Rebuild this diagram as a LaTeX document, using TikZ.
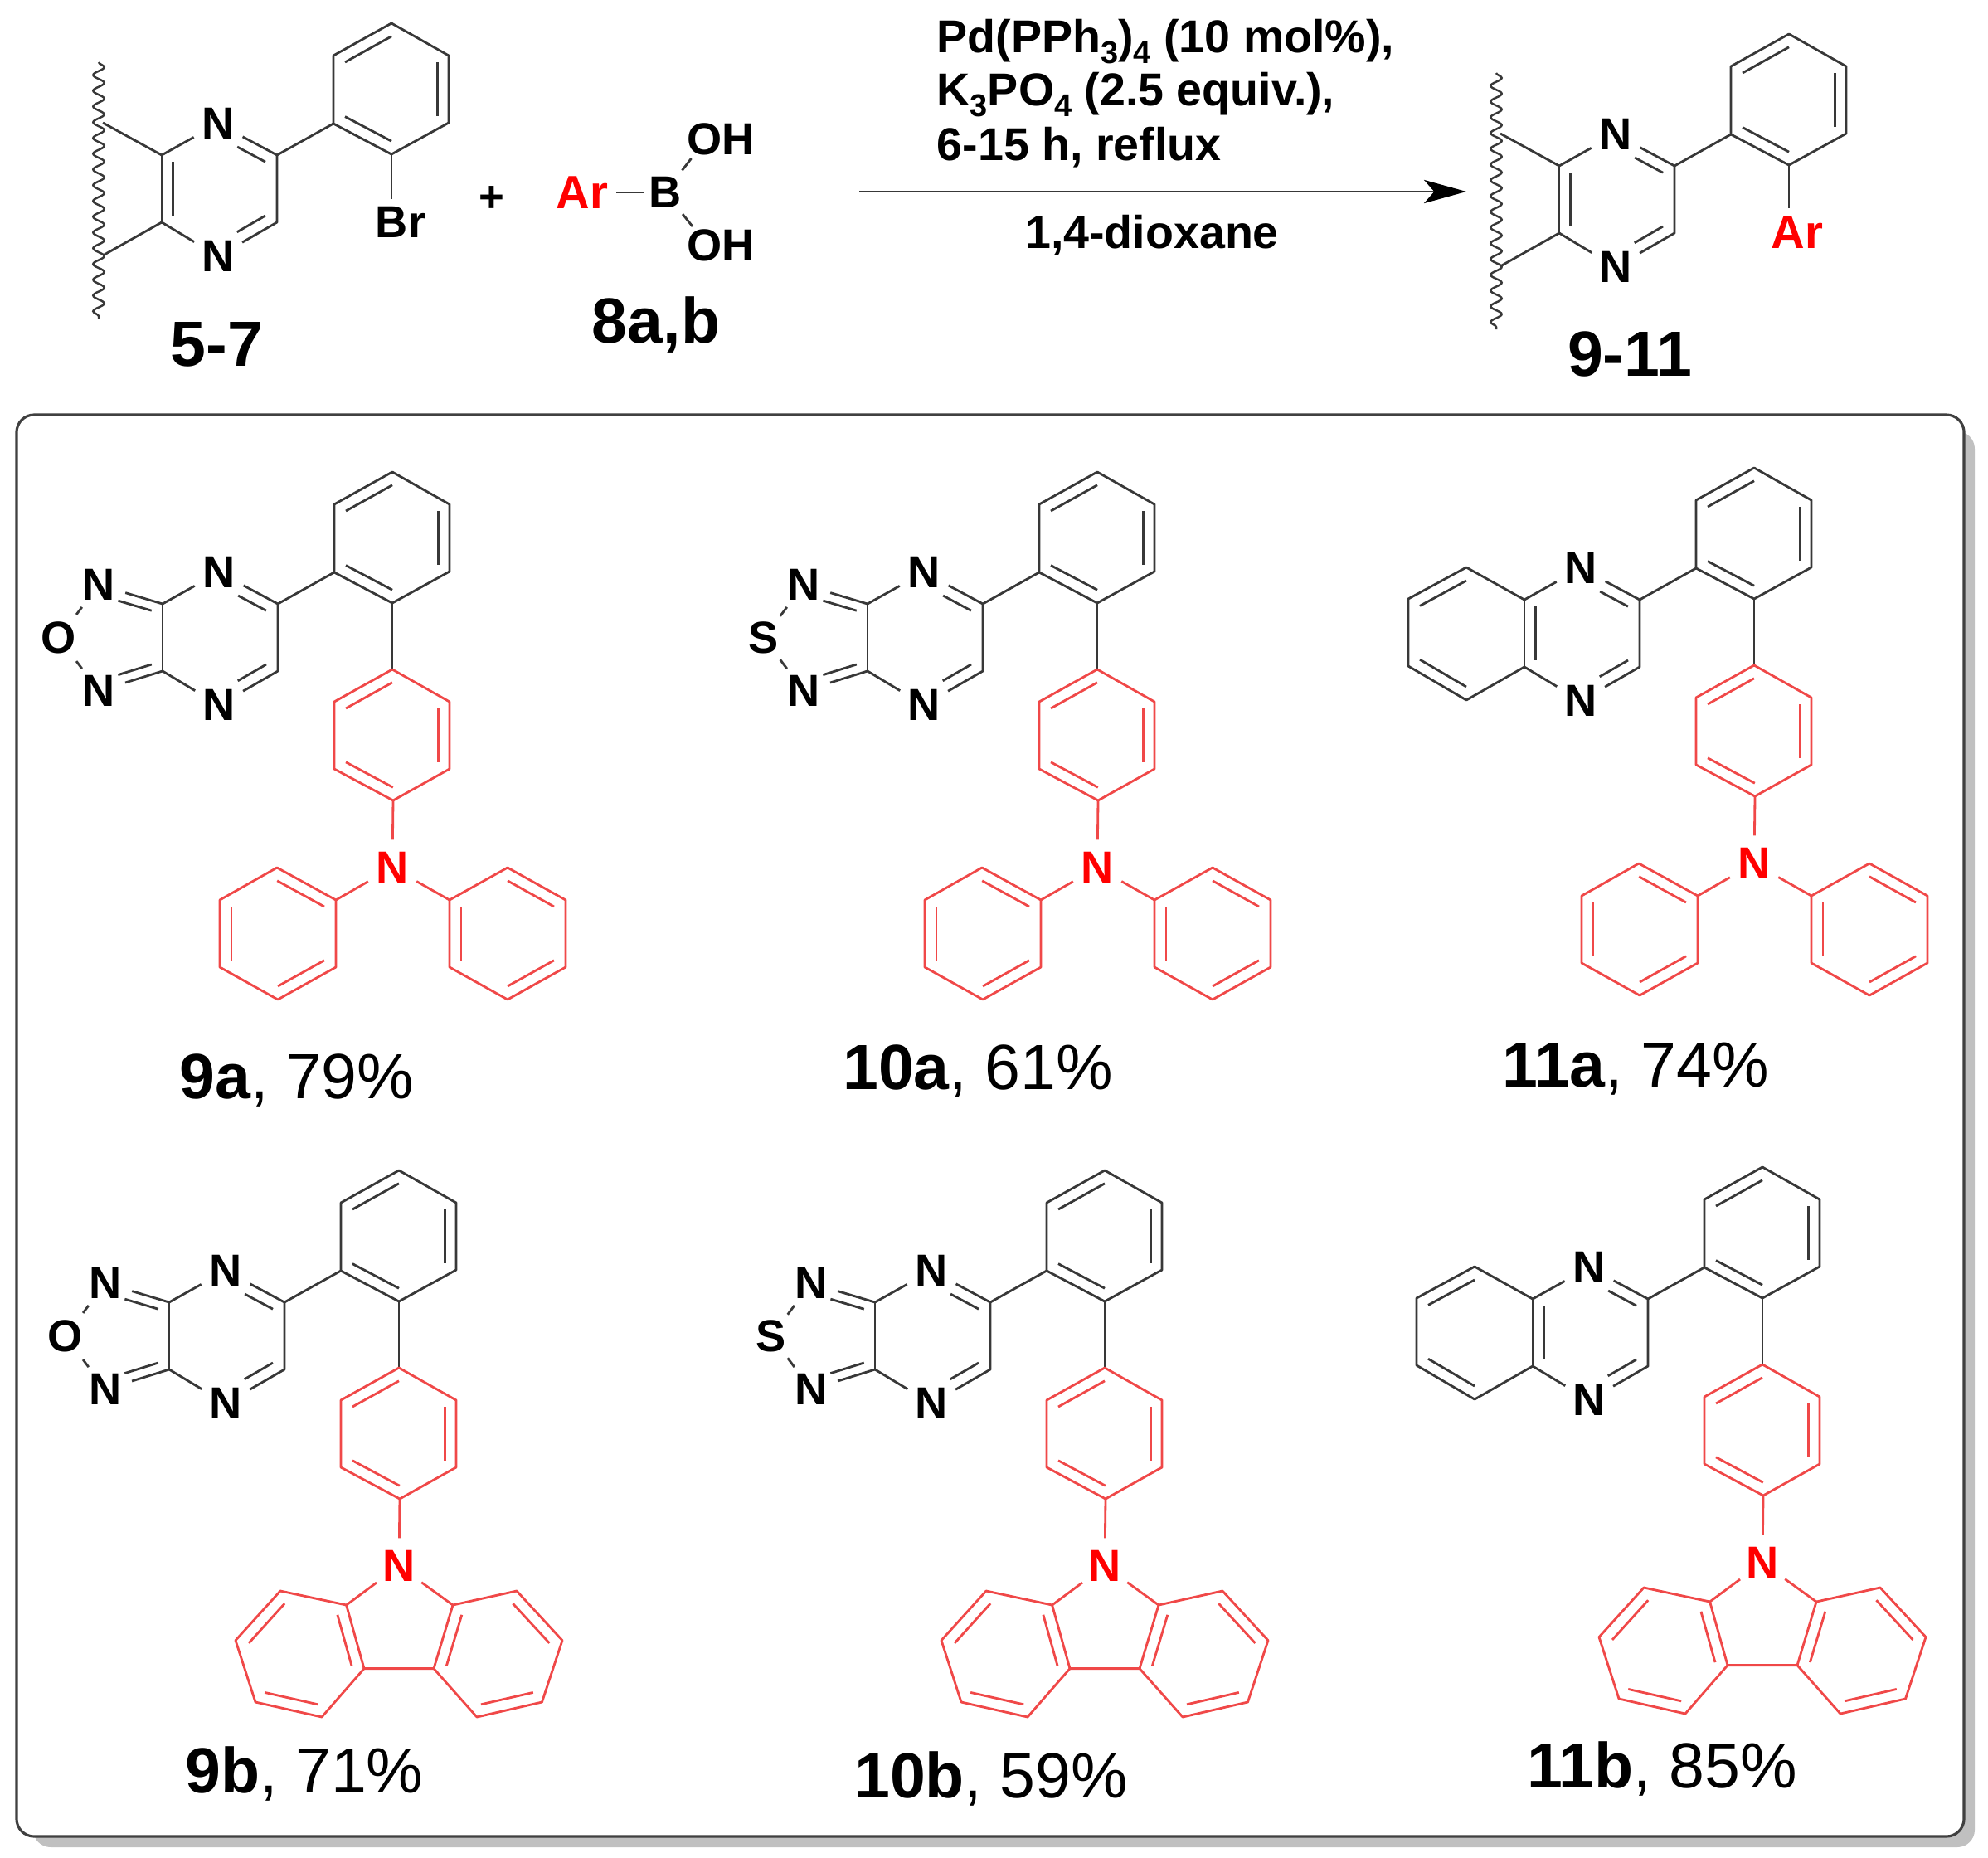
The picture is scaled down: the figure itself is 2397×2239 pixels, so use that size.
\documentclass[tikz,border=0pt]{standalone}
\usepackage{fontspec}
\setmainfont{Liberation Sans}
\usetikzlibrary{calc,arrows.meta,decorations.pathmorphing,shapes.geometric}
\definecolor{bondk}{HTML}{383838}
\definecolor{bondr}{HTML}{F04848}
\definecolor{boxline}{HTML}{404040}
\definecolor{boxshadow}{HTML}{C0C0C0}
\newcommand{\atomfont}{\fontsize{15.4}{17}\selectfont\bfseries}
\newcommand{\arfont}{\fontsize{16}{18}\selectfont\bfseries}
\newcommand{\codefont}{\fontsize{21.9}{24}\selectfont\bfseries}
\newcommand{\yieldfont}{\fontsize{21.9}{24}\selectfont}
\newcommand{\reagfont}{\fontsize{15.8}{18}\selectfont\bfseries}
\newcommand{\lowsub}[1]{\raisebox{-3.7pt}{\fontsize{10.8}{12}\selectfont\bfseries #1}}
\newcommand{\DB}[4][blk]{\draw[#1] ($(#2)!.2!(#4)$) -- ($(#3)!.2!(#4)$);}
% pyrazine with the o-phenylene: common to all molecules
\newcommand{\corecoords}{%
  \coordinate (a) at (196,728); \coordinate (b) at (196,809);
  \coordinate (c) at (335,728); \coordinate (d) at (335,809);
  \coordinate (pc) at (265,769);
  \coordinate (p1) at (403,690); \coordinate (p2) at (403,608);
  \coordinate (p3) at (473,569); \coordinate (p4) at (542,608);
  \coordinate (p5) at (542,689); \coordinate (p6) at (473,727);
  \coordinate (pp) at (473,648);
  \node[atom] (N1) at (264,690) {N};
  \node[atom] (N2) at (264,850) {N};
}
\newcommand{\corebonds}{%
  \draw[blk] (a) -- (N1);
  \draw[blk] (N1) -- (c) -- (d) -- (N2);
  \draw[blk] (N2) -- (b);
  \DB[blk,shorten <=7.4pt]{N1}{c}{pc}
  \DB[blk,shorten <=7.4pt]{N2}{d}{pc}
  \draw[blk] (c) -- (p1);
  \draw[blk] (p1) -- (p2) -- (p3) -- (p4) -- (p5) -- (p6) -- cycle;
  \DB{p1}{p6}{pp}
  \DB{p2}{p3}{pp}
  \DB{p4}{p5}{pp}
}
% fused azole with heteroatom #1
\newcommand{\azole}[1]{%
  \coordinate (fc) at (130,769);
  \node[atom] (N3) at (119,705) {N};
  \node[atom] (N4) at (119,833) {N};
  \node[atom] (X) at (71,769) {#1};
  \draw[blk] (a) -- (b);
  \draw[blk] (N3) -- (a);
  \draw[blk] (N4) -- (b);
  \DB[blk,shorten <=6.3pt]{N3}{a}{fc}
  \DB[blk,shorten <=6.3pt]{N4}{b}{fc}
  \draw[blk] (X) -- (N3);
  \draw[blk] (X) -- (N4);
}
\newcommand{\quinox}{%
  \coordinate (q1) at (126,689); \coordinate (q2) at (56,727);
  \coordinate (q3) at (56,808); \coordinate (q4) at (126,849);
  \coordinate (qc) at (126,769);
  \draw[blk] (a) -- (b);
  \DB{a}{b}{pc}
  \draw[blk] (a) -- (q1) -- (q2) -- (q3) -- (q4) -- (b);
  \DB{q1}{q2}{qc}
  \DB{q3}{q4}{qc}
}
\newcommand{\redring}{%
  \coordinate (r1) at (473,807); \coordinate (r2) at (403,846);
  \coordinate (r3) at (403,927); \coordinate (r4) at (474,965);
  \coordinate (r5) at (542,927); \coordinate (r6) at (542,846);
  \coordinate (rc) at (473,886);
  \draw[blk] (p6) -- (r1);
  \draw[rd] (r1) -- (r2) -- (r3) -- (r4) -- (r5) -- (r6) -- cycle;
  \DB[rd]{r1}{r2}{rc}
  \DB[rd]{r3}{r4}{rc}
  \DB[rd]{r5}{r6}{rc}
  \node[atom,text=red] (Nr) at (473,1046) {N};
  \draw[rd] (r4) -- (Nr);
}
\newcommand{\diphenyl}{%
  \coordinate (l1) at (405,1085); \coordinate (l2) at (334,1046);
  \coordinate (l3) at (265,1085); \coordinate (l4) at (265,1166);
  \coordinate (l5) at (335,1205); \coordinate (l6) at (405,1166);
  \coordinate (lc) at (335,1125);
  \coordinate (m1) at (542,1085); \coordinate (m2) at (612,1046);
  \coordinate (m3) at (682,1085); \coordinate (m4) at (682,1166);
  \coordinate (m5) at (612,1205); \coordinate (m6) at (542,1166);
  \coordinate (mc) at (612,1125);
  \draw[rd] (Nr) -- (l1);
  \draw[rd] (Nr) -- (m1);
  \draw[rd] (l1) -- (l2) -- (l3) -- (l4) -- (l5) -- (l6) -- cycle;
  \draw[rd] (m1) -- (m2) -- (m3) -- (m4) -- (m5) -- (m6) -- cycle;
  \DB[rd]{l1}{l2}{lc}
  \DB[rd]{l3}{l4}{lc}
  \DB[rd]{l5}{l6}{lc}
  \DB[rd]{m2}{m3}{mc}
  \DB[rd]{m4}{m5}{mc}
  \DB[rd]{m6}{m1}{mc}
}
\newcommand{\carbazole}{%
  \coordinate (c1) at (409.6,1093); \coordinate (c2) at (431,1169.6);
  \coordinate (c3) at (515,1169.6); \coordinate (c4) at (538,1093);
  \coordinate (u1) at (330,1076); \coordinate (u2) at (276,1135.6);
  \coordinate (u3) at (300,1210); \coordinate (u4) at (380,1228);
  \coordinate (v1) at (615,1076); \coordinate (v2) at (670,1135.6);
  \coordinate (v3) at (645.5,1210); \coordinate (v4) at (567,1228);
  \coordinate (uc) at (356,1152); \coordinate (vc) at (592,1152);
  \draw[rd] (Nr) -- (c1);
  \draw[rd] (Nr) -- (c4);
  \draw[rd] (c1) -- (c2) -- (c3) -- (c4);
  \draw[rd] (c1) -- (u1) -- (u2) -- (u3) -- (u4) -- (c2);
  \draw[rd] (c4) -- (v1) -- (v2) -- (v3) -- (v4) -- (c3);
  \DB[rd]{c1}{c2}{uc}
  \DB[rd]{u1}{u2}{uc}
  \DB[rd]{u3}{u4}{uc}
  \DB[rd]{c4}{c3}{vc}
  \DB[rd]{v1}{v2}{vc}
  \DB[rd]{v3}{v4}{vc}
}
\begin{document}
\begin{tikzpicture}[x=0.01cm,y=-0.01cm,
  blk/.style={draw=bondk,line width=0.8pt,line join=round},
  rd/.style={draw=bondr,line width=0.8pt,line join=round},
  atom/.style={circle,inner sep=1.2pt,font=\atomfont,text=black},
  rectatom/.style={rectangle,inner sep=2.6pt,font=\atomfont,text=black},
  wavy/.style={draw=bondk,line width=0.7pt,decorate,decoration={snake,segment length=5.4pt,amplitude=1.9pt}},
  code/.style={anchor=base,font=\codefont,text=black,inner sep=0pt},
  yield/.style={anchor=base,font=\yieldfont,text=black,inner sep=0pt},
  reag/.style={anchor=base west,font=\reagfont,text=black,inner sep=0pt},
]
\useasboundingbox (0,0) rectangle (2397,2239);
\fill[white] (0,0) rectangle (2397,2239);

% panel
\fill[boxshadow,rounded corners=6pt] (40,520) rectangle (2381,2227);
\draw[boxline,line width=0.9pt,fill=white,rounded corners=6pt] (20,500) rectangle (2368,2214);

% reactant 5-7
\begin{scope}[shift={(-1,-541)},name prefix=s-]
  \corecoords
  \corebonds
  \draw[blk] (a) -- (b);
  \DB{a}{b}{pc}
  \coordinate (wt) at (120,616); \coordinate (wb) at (120,925);
  \coordinate (wa) at (125,689); \coordinate (wd) at (125,849);
  \draw[wavy] (wt) -- (wb);
  \draw[blk] (a) -- (wa);
  \draw[blk] (b) -- (wd);
  \node[rectatom] (Br) at (484,809) {Br};
  \draw[blk] (p6) -- (p6 |- Br.north);
\end{scope}
\node[font=\fontsize{15}{16}\selectfont\bfseries,inner sep=0pt] (plus) at (593,240) {+};

% boronic acid
\node[rectatom,text=red,font=\arfont] (Ar) at (702,232) {Ar};
\node[atom] (B) at (802,232) {B};
\node[rectatom] (OHt) at (869,168) {OH};
\node[rectatom] (OHb) at (869,296) {OH};
\coordinate (bt) at (833.5,191);
\coordinate (bb) at (835,273);
\draw[blk,shorten >=-2.5pt] (Ar) -- (B);
\draw[blk] (B) -- (bt);
\draw[blk] (B) -- (bb);
\node[code] (lab57) at (261.5,441) {5-7};
\node[code] (lab8) at (791,413) {8a,b};

% reaction arrow
\coordinate (arS) at (1036,231);
\coordinate (arE) at (1768,231);
\draw[draw=bondk,line width=0.8pt,-{Stealth[length=14.5pt,width=8pt,inset=3.5pt,color=black]}] (arS) -- (arE);
\node[reag] (re1) at (1129,63) {Pd(PPh\lowsub{3})\lowsub{4} (10 mol\%),};
\node[reag] (re2) at (1129,127) {K\lowsub{3}PO\lowsub{4} (2.5 equiv.),};
\node[reag] (re3) at (1129,193) {6-15 h, reflux};
\node[reag,anchor=base] (re4) at (1389,299) {1,4-dioxane};

% product 9-11
\begin{scope}[shift={(1684,-528)},name prefix=t-]
  \corecoords
  \corebonds
  \draw[blk] (a) -- (b);
  \DB{a}{b}{pc}
  \coordinate (wt) at (120,616); \coordinate (wb) at (120,925);
  \coordinate (wa) at (125,689); \coordinate (wd) at (125,849);
  \draw[wavy] (wt) -- (wb);
  \draw[blk] (a) -- (wa);
  \draw[blk] (b) -- (wd);
  \node[rectatom,text=red,font=\arfont] (ArP) at (483,808) {Ar};
  \draw[blk] (p6) -- (p6 |- ArP.north);
\end{scope}
\node[code] (lab911) at (1965,453) {9-11};

% 9a
\begin{scope}[name prefix=m9a-]
  \corecoords \corebonds \azole{O} \redring \diphenyl
\end{scope}
\node[yield] (lab9a) at (358,1324) {\textbf{9a}, 79\%};
% 10a
\begin{scope}[shift={(850,0)},name prefix=m10a-]
  \corecoords \corebonds \azole{S} \redring \diphenyl
\end{scope}
\node[yield] (lab10a) at (1179,1313) {\textbf{10a}, 61\%};
% 11a
\begin{scope}[shift={(1642,-5)},name prefix=m11a-]
  \corecoords \corebonds \quinox \redring \diphenyl
\end{scope}
\node[yield] (lab11a) at (1972,1310) {\textbf{11a}, 74\%};
% 9b
\begin{scope}[shift={(8,842)},name prefix=m9b-]
  \corecoords \corebonds \azole{O} \redring \carbazole
\end{scope}
\node[yield] (lab9b) at (367,2161) {\textbf{9b}, 71\%};
% 10b
\begin{scope}[shift={(859,842)},name prefix=m10b-]
  \corecoords \corebonds \azole{S} \redring \carbazole
\end{scope}
\node[yield] (lab10b) at (1195,2167) {\textbf{10b}, 59\%};
% 11b
\begin{scope}[shift={(1652,838)},name prefix=m11b-]
  \corecoords \corebonds \quinox \redring \carbazole
\end{scope}
\node[yield] (lab11b) at (2004,2155) {\textbf{11b}, 85\%};
\end{tikzpicture}
\end{document}
